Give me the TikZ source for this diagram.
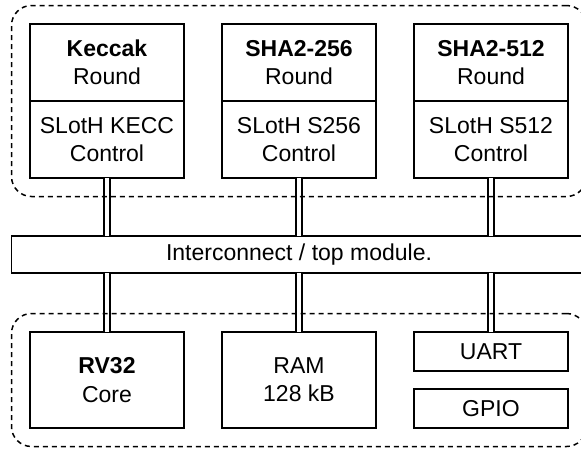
\documentclass[tikz,border=0pt]{standalone}
\usepackage{fontspec}
\usepackage{tikz}
\usetikzlibrary{positioning,fit}
\newfontfamily\diagfont{Liberation Sans}
\newcommand{\blockfont}{\diagfont\fontsize{23}{28.3}\selectfont}
\tikzset{
  unitbox/.style={
    rectangle, draw=black, line width=1.9pt, outer sep=0pt,
    minimum width=154pt, minimum height=#1,
    font=\blockfont, align=center, inner sep=2pt
  },
  unitbox/.default=77pt,
  busbar/.style={
    rectangle, draw=black, line width=1.9pt, outer sep=0pt,
    minimum width=575pt, minimum height=37pt,
    font=\blockfont, align=center, inner sep=2pt
  },
  groupbox/.style={
    rectangle, draw=black, line width=1.5pt, dash pattern=on 5pt off 4pt,
    rounded corners=20pt, inner sep=18.5pt
  },
  buslink/.style={
    draw=black, line width=1.7pt, double=white, double distance=4pt
  },
}
\begin{document}
\begin{tikzpicture}[x=1pt,y=1pt,node distance=38pt and 38pt]
  \useasboundingbox (0,0) rectangle (581,-451);

  % Hash cores, top row
  \node[unitbox] (kround) at (107,-62.5) {\textbf{Keccak}\\Round};
  \node[unitbox, below=0pt of kround] (kctrl) {SLotH KECC\\Control};
  \node[unitbox, right=38pt of kround] (sround) {\textbf{SHA2-256}\\Round};
  \node[unitbox, below=0pt of sround] (sctrl) {SLotH S256\\Control};
  \node[unitbox, right=38pt of sround] (lround) {\textbf{SHA2-512}\\Round};
  \node[unitbox, below=0pt of lround] (lctrl) {SLotH S512\\Control};

  % Interconnect
  \node[busbar, below=58pt of sctrl] (bus) {Interconnect / top module.};

  % Processor and peripherals, bottom row
  \node[unitbox=96pt, below=59pt of bus] (ram) {RAM\\128 kB};
  \node[unitbox=96pt, left=38pt of ram] (core) {\textbf{RV32}\\Core};
  \node[unitbox=39pt, right=38pt of ram.north east, anchor=north west] (uart) {UART};
  \node[unitbox=39pt, below=18pt of uart] (gpio) {GPIO};

  % Double links to the interconnect
  \draw[buslink] (kctrl.south) -- (kctrl.south |- bus.north);
  \draw[buslink] (sctrl.south) -- (sctrl.south |- bus.north);
  \draw[buslink] (lctrl.south) -- (lctrl.south |- bus.north);
  \draw[buslink] (core.north |- bus.south) -- (core.north);
  \draw[buslink] (ram.north |- bus.south) -- (ram.north);
  \draw[buslink] (uart.north |- bus.south) -- (uart.north);

  % Dashed groups
  \node[groupbox, fit=(kround)(lctrl)] (hashgrp) {};
  \node[groupbox, fit=(core)(gpio)] (socgrp) {};

\end{tikzpicture}
\end{document}
